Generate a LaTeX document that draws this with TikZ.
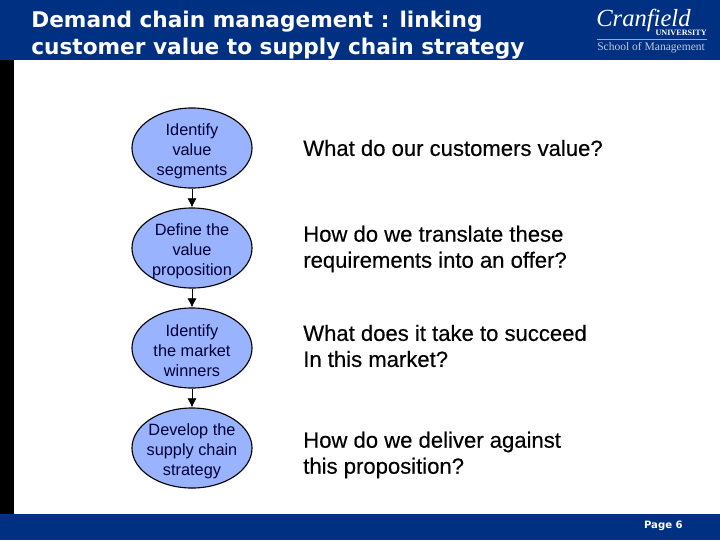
\documentclass[tikz,border=0pt]{standalone}
\usepackage{fontspec}
\setmainfont{Liberation Sans}
\newfontfamily\titlefont{DejaVu Sans}
\newfontfamily\logofont{Liberation Serif}
\newfontfamily\askfont[FakeBold=0.35]{Liberation Sans}
\usetikzlibrary{shapes.geometric,arrows.meta}
\definecolor{navy}{HTML}{003082}
\definecolor{stepblue}{HTML}{99B3FF}
\definecolor{inkblue}{HTML}{000033}
\tikzset{
  stepnode/.style={draw,ellipse,thick,fill=stepblue,text=inkblue,minimum width=3cm,minimum height=2cm,inner sep=-4pt,text height=41pt,align=center,font=\fontsize{11.6}{14.2}\selectfont},
  asknode/.style={anchor=west,inner sep=0pt,align=left,text=black,font=\askfont\fontsize{15.7}{18.5}\selectfont},
  titlenode/.style={anchor=west,inner sep=0pt,align=left,text=white,font=\titlefont\bfseries\fontsize{15.4}{19.2}\selectfont}
}
\begin{document}
\begin{tikzpicture}[x=0.025cm,y=-0.025cm]
\useasboundingbox (0,0) rectangle (720,540);
\fill[white] (0,0) rectangle (720,540);
\fill[navy] (0,0) rectangle (720,60);
\fill[black] (0,60) rectangle (14,514);
\fill[navy] (0,514) rectangle (720,540);
\node[titlenode] (T0) at (31,35.5) {Demand chain management : linking\\customer value to supply chain strategy};
\node[anchor=base west,inner sep=0pt,text depth=0pt,text=white,font=\logofont\itshape\fontsize{17.5}{18}\selectfont] (L0) at (596,26) {Cranfield};
\node[anchor=east,inner sep=0pt,text=white,font=\logofont\bfseries\fontsize{5.8}{7}\selectfont] (L1) at (707,33) {UNIVERSITY};
\node[anchor=west,inner sep=0pt,text=white!75!navy,font=\logofont\fontsize{8.2}{9}\selectfont] (L2) at (597,47.5) {School of Management};
\coordinate (R0) at (597,39);
\coordinate (R1) at (707,39);
\draw[white!60!navy,very thin] (R0) -- (R1);
\node[stepnode] (S0) at (192,148) {Identify\\value\\segments};
\node[stepnode] (S1) at (192,248) {Define the\\value\\proposition};
\node[stepnode] (S2) at (192,348) {Identify\\the market\\winners};
\node[stepnode] (S3) at (192,448) {Develop the\\supply chain\\strategy};
\draw[-{Latex[width=6.5pt,length=6.5pt]},semithick] (S0) -- (S1);
\draw[-{Latex[width=6.5pt,length=6.5pt]},semithick] (S1) -- (S2);
\draw[-{Latex[width=6.5pt,length=6.5pt]},semithick] (S2) -- (S3);
\node[asknode] (A0) at (303,148) {What do our customers value?};
\node[asknode] (A1) at (303,249) {How do we translate these\\requirements into an offer?};
\node[asknode] (A2) at (303,346) {What does it take to succeed\\In this market?};
\node[asknode] (A3) at (303,455) {How do we deliver against\\this proposition?};
\node[anchor=east,inner sep=0pt,text=white,font=\titlefont\bfseries\fontsize{7.2}{9}\selectfont] (P0) at (683,526) {Page 6};
\end{tikzpicture}
\end{document}
